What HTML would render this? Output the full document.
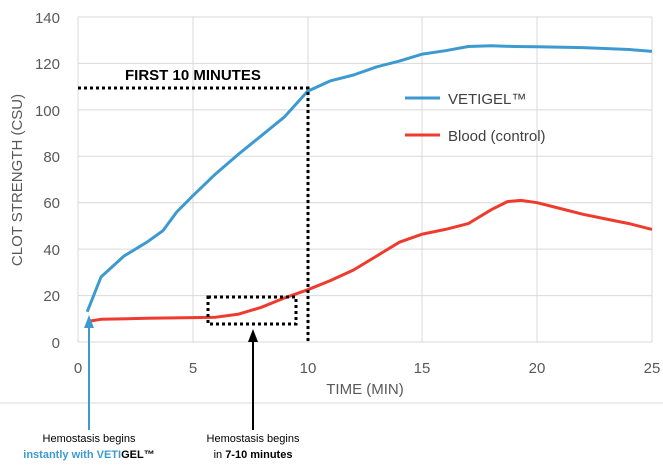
<!DOCTYPE html>
<html><head><meta charset="utf-8"><style>
body{margin:0;background:#fff;}
svg{display:block;font-family:"Liberation Sans",sans-serif;}
</style></head><body>
<svg id="s" width="663" height="475" viewBox="0 0 663 475">
<g stroke="#d9d9d9" stroke-width="1">
<line x1="78" y1="17" x2="652" y2="17"/><line x1="78" y1="63.4" x2="652" y2="63.4"/><line x1="78" y1="109.9" x2="652" y2="109.9"/><line x1="78" y1="156.3" x2="652" y2="156.3"/><line x1="78" y1="202.7" x2="652" y2="202.7"/><line x1="78" y1="249.1" x2="652" y2="249.1"/><line x1="78" y1="295.6" x2="652" y2="295.6"/><line x1="78" y1="342" x2="652" y2="342"/>
<line x1="78" y1="17" x2="78" y2="342"/><line x1="193" y1="17" x2="193" y2="342"/><line x1="308" y1="17" x2="308" y2="342"/><line x1="422" y1="17" x2="422" y2="342"/><line x1="537" y1="17" x2="537" y2="342"/><line x1="652" y1="17" x2="652" y2="342"/>
<line x1="0" y1="403" x2="663" y2="403"/>
</g>
<g fill="#595959" font-size="15" text-anchor="end">
<text x="60" y="23">140</text><text x="60" y="69">120</text><text x="60" y="116">100</text><text x="60" y="162">80</text><text x="60" y="208">60</text><text x="60" y="255">40</text><text x="60" y="301">20</text><text x="60" y="348">0</text>
</g>
<g fill="#595959" font-size="15" text-anchor="middle">
<text x="78" y="373">0</text><text x="193" y="373">5</text><text x="308" y="373">10</text><text x="422" y="373">15</text><text x="537" y="373">20</text><text x="652" y="373">25</text>
<text x="365" y="394">TIME (MIN)</text>
<text transform="translate(22,180) rotate(-90)">CLOT STRENGTH (CSU)</text>
</g>
<path id="b" fill="none" stroke="#3d9ad1" stroke-width="3" stroke-linejoin="round"/>
<path id="r" fill="none" stroke="#ee3b2e" stroke-width="3" stroke-linejoin="round"/>
<g stroke="#000" stroke-width="3" stroke-dasharray="3,3" fill="none">
<polyline points="78,88 308,88 308,342"/>
<rect x="208" y="297" width="88" height="27"/>
</g>
<text x="125" y="80" font-size="15" font-weight="bold">FIRST 10 MINUTES</text>
<line x1="405" y1="98" x2="440" y2="98" stroke="#3d9ad1" stroke-width="3"/>
<text x="448" y="104" font-size="15" fill="#404040">VETIGEL™</text>
<line x1="405" y1="135" x2="440" y2="135" stroke="#ee3b2e" stroke-width="3"/>
<text x="448" y="141" font-size="15" fill="#404040">Blood (control)</text>
<line x1="89" y1="430" x2="89" y2="326" stroke="#3d9ad1" stroke-width="2"/>
<polygon points="89,315 84,328 94,328" fill="#3d9ad1"/>
<line x1="253" y1="430" x2="253" y2="340" stroke="#000" stroke-width="2"/>
<polygon points="253,329 248,342 258,342" fill="#000"/>
<g font-size="11" text-anchor="middle">
<text x="89" y="442">Hemostasis begins</text>
<text x="89" y="458" font-weight="bold"><tspan fill="#3d9ad1">instantly with VETI</tspan><tspan fill="#000">GEL™</tspan></text>
<text x="253" y="442">Hemostasis begins</text>
<text x="253" y="458">in <tspan font-weight="bold">7-10 minutes</tspan></text>
</g>
</svg>
<script>
function X(t){return 78+t*22.96;}function Y(v){return 342-v*2.3214;}
function mk(p){var s="";for(var i=0;i<p.length;i++){s+=(i?"L":"M")+X(p[i][0]).toFixed(1)+","+Y(p[i][1]).toFixed(1);}return s;}
var b=[[0.4,13],[1,28],[2,37],[3,43],[3.7,48],[4.3,56],[5,63],[6,72.5],[7,81],[8,89],[9,97],[10,108],[11,112.5],[12,115],[13,118.5],[14,121],[15,124],[16,125.5],[17,127.3],[18,127.6],[19,127.3],[20,127.2],[22,126.8],[24,126],[25,125.2]];
var r=[[0.5,9],[1,9.8],[3,10.2],[5,10.5],[6,10.7],[7,12],[8,15],[9,19],[10,22.5],[11,26.5],[12,31],[13,37],[14,43],[15,46.5],[16,48.5],[17,51],[18,57],[18.7,60.5],[19.3,61],[20,60],[21,57.5],[22,55],[23,53],[24,51],[25,48.5]];
document.getElementById("b").setAttribute("d",mk(b));document.getElementById("r").setAttribute("d",mk(r));
</script>
</body></html>
